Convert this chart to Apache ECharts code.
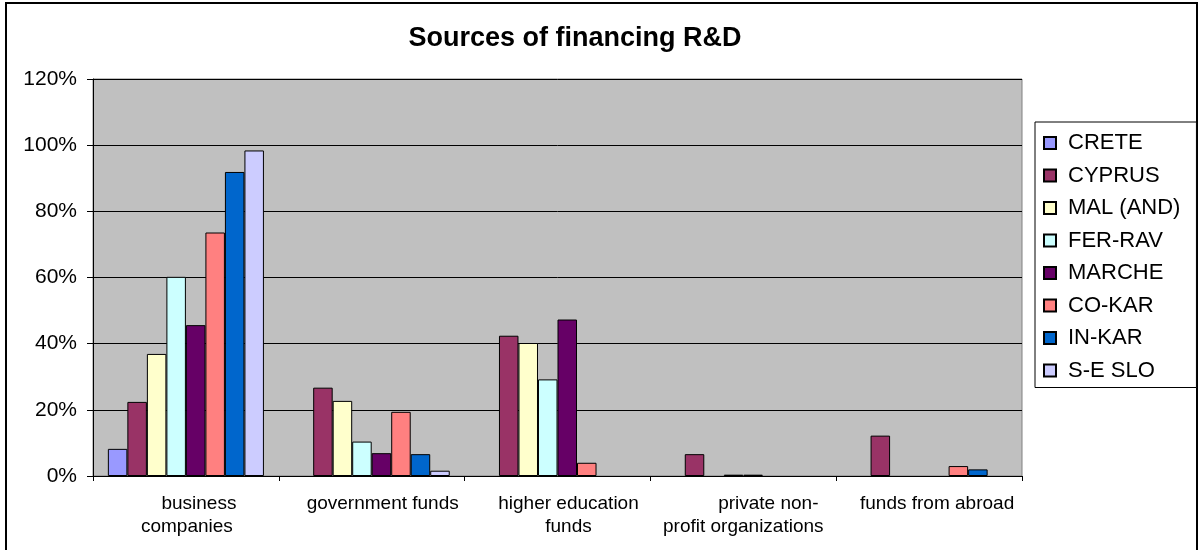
<!DOCTYPE html>
<html>
<head>
<meta charset="utf-8">
<title>Sources of financing R&amp;D</title>
<script src="https://cdn.jsdelivr.net/npm/echarts@6/dist/echarts.min.js"></script>
<style>
  html, body { margin: 0; padding: 0; background: #ffffff; }
  #chart { width: 1200px; height: 550px; }
</style>
</head>
<body>
<div id="chart"></div>
<script>
// Funding sources (x categories) and the wrapped tick labels shown under them
const categories = [
  'business companies',
  'government funds',
  'higher education funds',
  'private non-profit organizations',
  'funds from abroad'
];
const tickLabels = [
  ['business', 'companies'],
  ['government funds'],
  ['higher education', 'funds'],
  ['private non-', 'profit organizations'],
  ['funds from abroad']
];
const yTicks = [0, 20, 40, 60, 80, 100, 120];

// Share of R&D financing by region, in percent (null = no bar)
const regions = ['CRETE', 'CYPRUS', 'MAL (AND)', 'FER-RAV', 'MARCHE', 'CO-KAR', 'IN-KAR', 'S-E SLO'];
const crete   = [8.2,  null, null, null, null];
const cyprus  = [22.4, 26.7, 42.4, 6.6,  12.2];
const malAnd  = [36.9, 22.7, 40.2, null, null];
const ferRav  = [60.2, 10.4, 29.2, 0.4,  null];
const marche  = [45.6, 6.9,  47.3, 0.4,  null];
const coKar   = [73.6, 19.4, 4.0,  null, 3.0];
const inKar   = [91.9, 6.6,  null, null, 2.0];
const seSlo   = [98.4, 1.6,  null, null, null];
const seriesValues = [crete, cyprus, malAnd, ferRav, marche, coKar, inKar, seSlo];

// Classic spreadsheet palette
const palette = ['#9999FF', '#993366', '#FFFFCC', '#CCFFFF', '#660066', '#FF8080', '#0066CC', '#CCCCFF'];

const FONT = '"Liberation Sans", Arial, Helvetica, sans-serif';

// Horizontal nudge (px of left padding) for each wrapped label line
const lineShift = [
  [26, 2],
  [22],
  [22, 22],
  [50, 0],
  [16]
];

const chart = echarts.init(document.getElementById('chart'), null, { renderer: 'canvas' });

const rich = {};
lineShift.forEach(function (lines, i) {
  lines.forEach(function (pad, j) {
    rich['c' + i + '_' + j] = {
      fontSize: 19, fontFamily: FONT, color: '#000', lineHeight: 23,
      padding: [0, 0, 0, pad]
    };
  });
});

const option = {
  backgroundColor: '#ffffff',
  animation: false,
  title: {
    text: 'Sources of financing R&D',
    left: 570,
    top: 20,
    textAlign: 'center',
    textStyle: { fontFamily: FONT, fontSize: 27, fontWeight: 'bold', color: '#000' }
  },
  graphic: [{
    type: 'rect',
    shape: { x: 6, y: 3, width: 1191, height: 600 },
    style: { fill: 'none', stroke: '#000', lineWidth: 2 },
    silent: true
  }],
  legend: {
    orient: 'vertical',
    left: 1035,
    top: 122,
    padding: [10, 16, 6, 8],
    itemWidth: 12,
    itemHeight: 12,
    itemGap: 10.5,
    icon: 'rect',
    backgroundColor: '#ffffff',
    borderColor: '#000',
    borderWidth: 1,
    borderRadius: 0,
    data: regions,
    textStyle: {
      fontFamily: FONT, fontSize: 22, color: '#000', lineHeight: 20,
      padding: [0, 0, 0, 7]
    }
  },
  grid: {
    left: 93,
    top: 79,
    right: 178,
    bottom: 74,
    show: true,
    backgroundColor: '#C0C0C0',
    borderColor: '#808080',
    borderWidth: 1,
    containLabel: false
  },
  xAxis: {
    type: 'category',
    data: categories,
    boundaryGap: true,
    axisLine: { show: true, lineStyle: { color: '#000', width: 1 } },
    axisTick: { show: true, interval: 0, length: 5, alignWithLabel: false, lineStyle: { color: '#000' } },
    axisLabel: {
      interval: 0,
      margin: 16,
      fontFamily: FONT,
      fontSize: 19,
      color: '#000',
      lineHeight: 23,
      rich: rich,
      formatter: function (value, idx) {
        return tickLabels[idx].map(function (line, j) {
          return '{c' + idx + '_' + j + '|' + line + '}';
        }).join('\n');
      }
    },
    splitLine: { show: false }
  },
  yAxis: {
    type: 'value',
    min: yTicks[0],
    max: yTicks[yTicks.length - 1],
    interval: yTicks[1] - yTicks[0],
    axisLine: { show: true, lineStyle: { color: '#000', width: 1 } },
    axisTick: { show: true, length: 6, lineStyle: { color: '#000' } },
    axisLabel: {
      margin: 16,
      fontFamily: FONT,
      fontSize: 21,
      color: '#000',
      formatter: '{value}%'
    },
    splitLine: { show: true, lineStyle: { color: '#000', width: 1 } }
  },
  series: regions.map(function (name, i) {
    return {
      name: name,
      type: 'bar',
      data: seriesValues[i],
      barGap: '0%',
      barCategoryGap: '16%',
      itemStyle: { color: palette[i], borderColor: '#000', borderWidth: 1 },
      emphasis: { disabled: true }
    };
  })
};

chart.setOption(option);
</script>
</body>
</html>
